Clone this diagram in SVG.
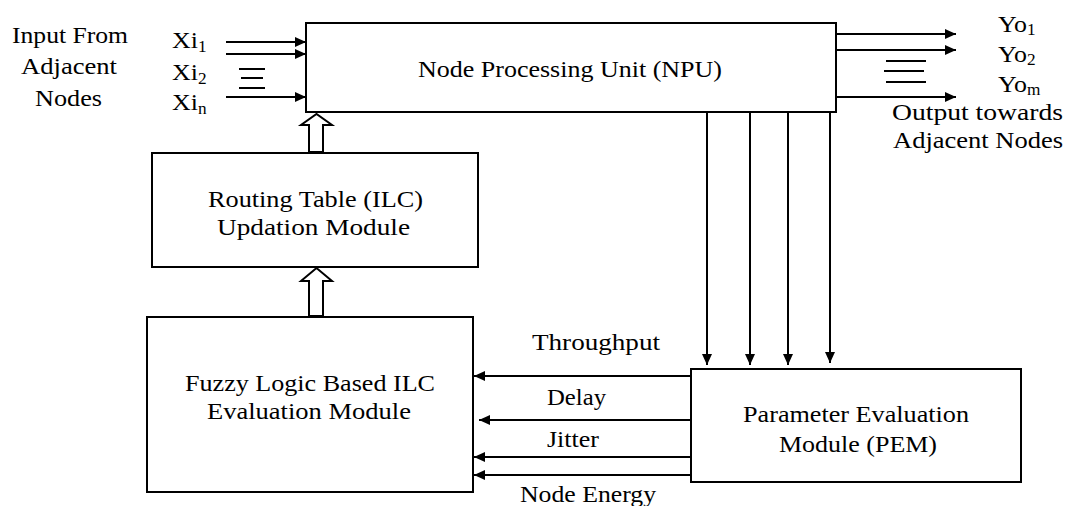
<svg xmlns="http://www.w3.org/2000/svg" width="1067" height="506" viewBox="0 0 1067 506">
<style>
.box{fill:#fff;stroke:#000;stroke-width:2}
.ln{stroke:#000;stroke-width:2;fill:none}
.hol{fill:#fff;stroke:#000;stroke-width:2;stroke-linejoin:miter}
text{font-family:"Liberation Serif","Times New Roman",serif;font-size:24px;fill:#000}
.sub{font-size:16px}
</style>
<defs>
<marker id="ah" markerUnits="userSpaceOnUse" markerWidth="12" markerHeight="12" viewBox="0 0 12 12" refX="11" refY="6" orient="auto">
<path d="M0,1 L11,6 L0,11 Z" fill="#000"/>
</marker>
</defs>
<rect width="1067" height="506" fill="#fff"/>

<g id="input-label">
<text x="12" y="43" textLength="116" lengthAdjust="spacingAndGlyphs">Input From</text>
<text x="21" y="74" textLength="96" lengthAdjust="spacingAndGlyphs">Adjacent</text>
<text x="35" y="106" textLength="67" lengthAdjust="spacingAndGlyphs">Nodes</text>
<text transform="translate(172,48) scale(1.08,1)">Xi<tspan class="sub" dy="4">1</tspan></text>
<text transform="translate(172,80) scale(1.08,1)">Xi<tspan class="sub" dy="4">2</tspan></text>
<text transform="translate(172,110) scale(1.08,1)">Xi<tspan class="sub" dy="4">n</tspan></text>
<path class="ln" d="M239,69 H265 M241,78 H263 M239,88 H265"/>
</g>

<g id="output-label">
<text transform="translate(998,32) scale(1.08,1)">Yo<tspan class="sub" dy="3">1</tspan></text>
<text transform="translate(998,62) scale(1.08,1)">Yo<tspan class="sub" dy="3">2</tspan></text>
<text transform="translate(998,92) scale(1.08,1)">Yo<tspan class="sub" dy="3">m</tspan></text>
<text x="892" y="120" textLength="171" lengthAdjust="spacingAndGlyphs">Output towards</text>
<text x="893" y="148" textLength="170" lengthAdjust="spacingAndGlyphs">Adjacent Nodes</text>
<path class="ln" d="M886,61 H926 M884,71 H924 M886,82 H926"/>
</g>

<g id="npu">
<rect class="box" x="306" y="23" width="530" height="89"/>
<text x="418" y="77" textLength="304" lengthAdjust="spacingAndGlyphs">Node Processing Unit (NPU)</text>
</g>

<g id="routing">
<rect class="box" x="152" y="153" width="326" height="114"/>
<text x="208" y="207" textLength="215" lengthAdjust="spacingAndGlyphs">Routing Table (ILC)</text>
<text x="217" y="235" textLength="193" lengthAdjust="spacingAndGlyphs">Updation Module</text>
</g>

<g id="fuzzy">
<rect class="box" x="147" y="317" width="326" height="175"/>
<text x="185" y="391" textLength="250" lengthAdjust="spacingAndGlyphs">Fuzzy Logic Based ILC</text>
<text x="207" y="419" textLength="204" lengthAdjust="spacingAndGlyphs">Evaluation Module</text>
</g>

<g id="pem">
<rect class="box" x="691" y="369" width="330" height="113"/>
<text x="743" y="422" textLength="226" lengthAdjust="spacingAndGlyphs">Parameter Evaluation</text>
<text x="779" y="452" textLength="158" lengthAdjust="spacingAndGlyphs">Module (PEM)</text>
</g>

<g id="connectors">
<path class="ln" d="M226,42 H306" marker-end="url(#ah)"/>
<path class="ln" d="M226,54 H306" marker-end="url(#ah)"/>
<path class="ln" d="M226,97 H306" marker-end="url(#ah)"/>
<path class="ln" d="M836,34 H956" marker-end="url(#ah)"/>
<path class="ln" d="M836,50 H956" marker-end="url(#ah)"/>
<path class="ln" d="M836,97 H956" marker-end="url(#ah)"/>
<path class="ln" d="M707,112 V365" marker-end="url(#ah)"/>
<path class="ln" d="M750,112 V365" marker-end="url(#ah)"/>
<path class="ln" d="M788,112 V365" marker-end="url(#ah)"/>
<path class="ln" d="M830,112 V363" marker-end="url(#ah)"/>
<path class="ln" d="M691,376 H474" marker-end="url(#ah)"/>
<path class="ln" d="M691,420 H479" marker-end="url(#ah)"/>
<path class="ln" d="M691,457 H474" marker-end="url(#ah)"/>
<path class="ln" d="M691,475 H474" marker-end="url(#ah)"/>
<polygon class="hol" points="309,152 309,125 301,125 316.5,114 332,125 323,125 323,152"/>
<polygon class="hol" points="309,316 309,281 301,281 316.5,268 332,281 323,281 323,316"/>
<text x="532" y="350" textLength="128" lengthAdjust="spacingAndGlyphs">Throughput</text>
<text x="547" y="405" textLength="59" lengthAdjust="spacingAndGlyphs">Delay</text>
<text x="547" y="447" textLength="52" lengthAdjust="spacingAndGlyphs">Jitter</text>
<text x="520" y="502" textLength="136" lengthAdjust="spacingAndGlyphs">Node Energy</text>
</g>
</svg>
